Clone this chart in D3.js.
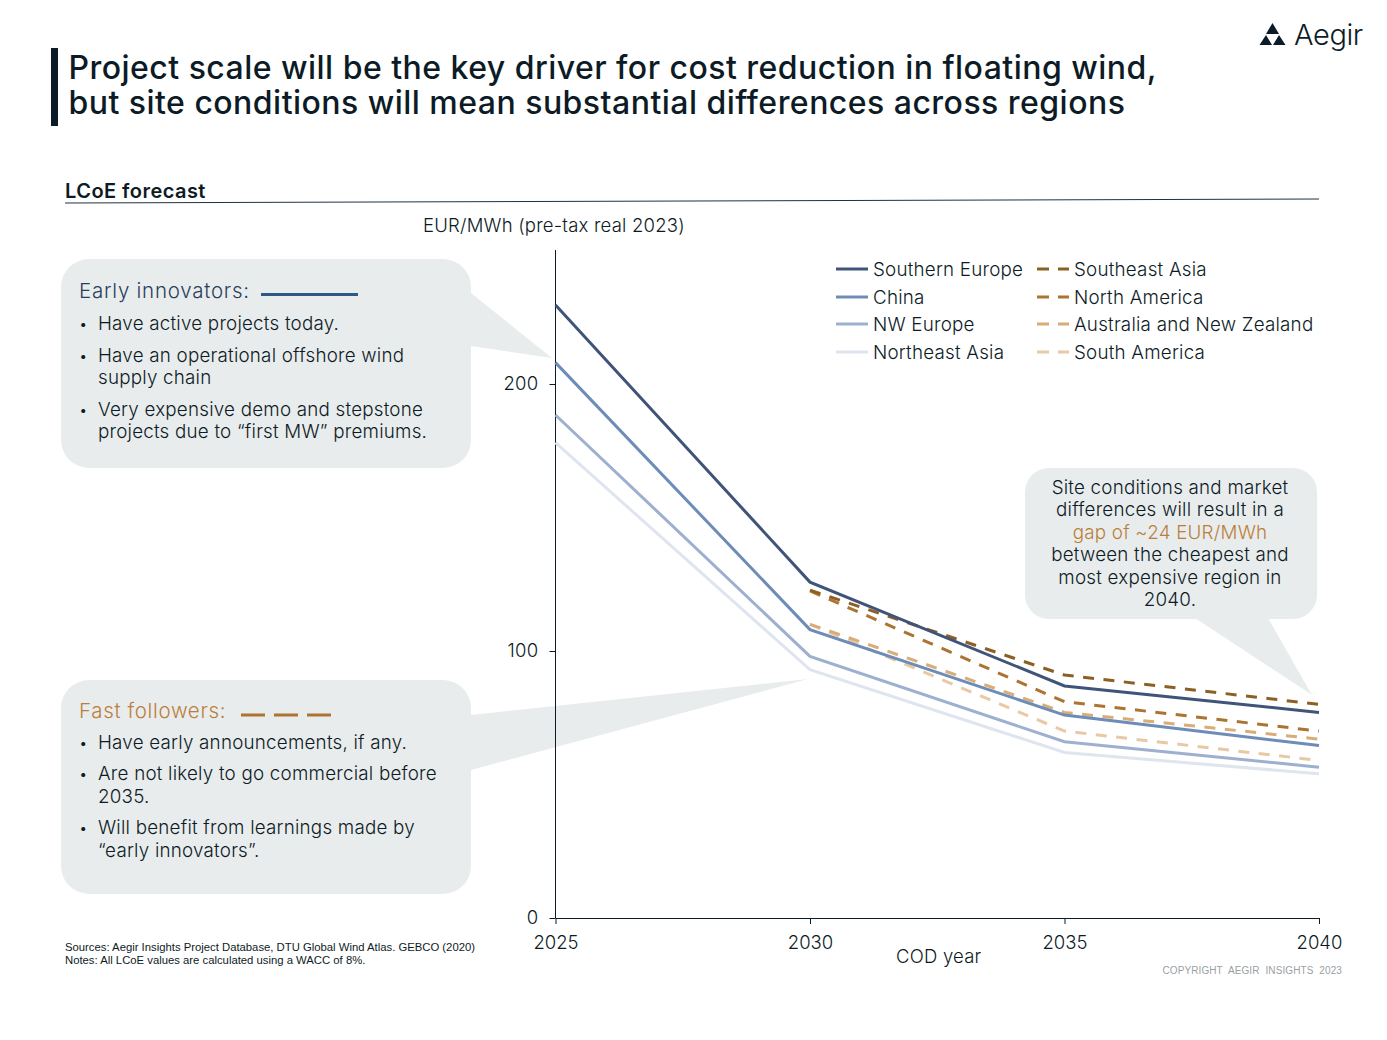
<!DOCTYPE html>
<html>
<head>
<meta charset="utf-8">
<script src="https://cdnjs.cloudflare.com/ajax/libs/d3/7.8.5/d3.min.js"></script>
<style>
  html, body { margin: 0; padding: 0; background: #fff; }
  svg { display: block; font-family: Inter, "Noto Sans", sans-serif; font-weight: 350; letter-spacing: 0.22px; fill: #0d1b26; }
</style>
</head>
<body>
<svg width="1387" height="1040"></svg>
<script>
var years = [2025, 2030, 2035, 2040];
var yTicks = [0, 100, 200];

// values, EUR/MWh. null = no value for that year
var southernEurope = [229.6, 125.8, 86.9, 77];
var china = [208, 108, 76, 64.6];
var nwEurope = [188.4, 98, 66, 56.5];
var northeastAsia = [178, 93, 62, 54];
var southeastAsia = [null, 122.8, 91, 80];
var northAmerica = [null, 122.5, 81, 70];
var australiaNz = [null, 110, 77, 67];
var southAmerica = [null, 110, 70, 59];

var seriesNames = ["Southern Europe", "China", "NW Europe", "Northeast Asia",
                   "Southeast Asia", "North America", "Australia and New Zealand", "South America"];
var seriesValues = [southernEurope, china, nwEurope, northeastAsia,
                    southeastAsia, northAmerica, australiaNz, southAmerica];
var seriesColors = ["#3f5478", "#6d8cb8", "#9db0cf", "#dfe5ef",
                    "#8d5f24", "#ac7430", "#d9ad77", "#e8c9a3"];

var svg = d3.select("svg");

var x = d3.scaleLinear().domain([2025, 2040]).range([555.5, 1319]);
var y = d3.scaleLinear().domain([0, 200]).range([918, 384]);

// title block
svg.append("rect").attr("x", 51).attr("y", 48).attr("width", 7).attr("height", 78).attr("fill", "#0d1b26");
svg.append("text").attr("x", 68.5).attr("y", 79).attr("font-size", 32).attr("font-weight", 500).attr("letter-spacing", 0.47)
    .text("Project scale will be the key driver for cost reduction in floating wind,");
svg.append("text").attr("x", 68.5).attr("y", 114).attr("font-size", 32).attr("font-weight", 500).attr("letter-spacing", 0.47)
    .text("but site conditions will mean substantial differences across regions");

// logo
var logo = svg.append("g").attr("fill", "#0d1b26");
logo.append("path").attr("d", "M1272.5 23l6.5 11h-13z");
logo.append("path").attr("d", "M1266 35l6 10h-12.5z");
logo.append("path").attr("d", "M1279 35l6.5 10h-12.5z");
logo.append("text").attr("x", 1294).attr("y", 45).attr("font-size", 29).attr("letter-spacing", -0.4).text("Aegir");

// section header
svg.append("text").attr("x", 65).attr("y", 198).attr("font-size", 20).attr("font-weight", 600).attr("letter-spacing", 0.45).text("LCoE forecast");
svg.append("line").attr("x1", 65).attr("y1", 203).attr("x2", 1319).attr("y2", 199)
    .attr("stroke", "#1d3247").attr("stroke-width", 1);

svg.append("text").attr("x", 423).attr("y", 232).attr("font-size", 18.5).text("EUR/MWh (pre-tax real 2023)");

// callouts sit behind the chart
var bubble = "#e9eced";
function callout(bx, by, bw, bh, r, tail) {
  svg.append("rect").attr("x", bx).attr("y", by).attr("width", bw).attr("height", bh).attr("rx", r).attr("fill", bubble);
  svg.append("path").attr("d", d3.line()(tail)).attr("fill", bubble);
}
callout(61, 259, 410, 209, 28, [[471, 293], [552, 358], [471, 346]]);
callout(61, 680, 410, 214, 28, [[471, 715], [808, 679], [471, 770]]);
callout(1025, 468, 292, 151, 24, [[1195, 618], [1312, 695], [1268, 618]]);

// axes
var xAxis = d3.axisBottom(x).tickValues(years).tickFormat(d3.format("d")).tickSize(6).tickSizeOuter(0);
var yAxis = d3.axisLeft(y).tickValues(yTicks).tickSize(6).tickSizeOuter(0);

var gx = svg.append("g").attr("transform", "translate(0,918)").call(xAxis);
var gy = svg.append("g").attr("transform", "translate(555.5,0)").call(yAxis);
gy.select(".domain").attr("d", "M0," + 250 + "V" + 918);
gx.selectAll("path,line").attr("stroke", "#0d1b26");
gy.selectAll("path,line").attr("stroke", "#0d1b26");
gx.selectAll("text").attr("font-family", "Inter").attr("font-size", 18.5).attr("letter-spacing", 0).attr("fill", "#0d1b26").attr("y", 18);
gy.selectAll("text").attr("font-family", "Inter").attr("font-size", 18.5).attr("letter-spacing", 0.3).attr("fill", "#0d1b26").attr("x", -17);

svg.append("text").attr("x", 896).attr("y", 963).attr("font-size", 18.5).text("COD year");

// lines
var line = d3.line()
    .defined(function(d) { return d[1] != null; })
    .x(function(d) { return x(d[0]); })
    .y(function(d) { return y(d[1]); });

// light ones first so the darker lines end up on top
d3.range(7, -1, -1).forEach(function(i) {
  svg.append("path")
      .attr("d", line(years.map(function(yr, j) { return [yr, seriesValues[i][j]]; })))
      .attr("fill", "none")
      .attr("stroke", seriesColors[i])
      .attr("stroke-width", 3)
      .attr("stroke-dasharray", i >= 4 ? "11 9.5" : null);
});

// legend
var legendX = [836, 1037];
var legendTextX = [873, 1074];
var legendY = [269, 297, 324, 352];
seriesNames.forEach(function(name, i) {
  var col = i < 4 ? 0 : 1, row = i % 4;
  svg.append("line").attr("x1", legendX[col]).attr("x2", legendX[col] + 32)
      .attr("y1", legendY[row]).attr("y2", legendY[row])
      .attr("stroke", seriesColors[i]).attr("stroke-width", 3)
      .attr("stroke-dasharray", i >= 4 ? "12 9" : null);
  svg.append("text").attr("x", legendTextX[col]).attr("y", legendY[row] + 7).attr("font-size", 18.8).text(name);
});

// early innovators box
var orange = "#b97f3a";
svg.append("text").attr("x", 79).attr("y", 298).attr("font-size", 20.5).attr("letter-spacing", 0.75).attr("fill", "#28405c").text("Early innovators:");
svg.append("line").attr("x1", 261).attr("x2", 358).attr("y1", 294.5).attr("y2", 294.5).attr("stroke", "#2c5a85").attr("stroke-width", 3);

function bullets(items) {
  items.forEach(function(t) {
    if (t.b) svg.append("text").attr("x", 79).attr("y", t.y - 1).attr("font-size", 15).text("•");
    svg.append("text").attr("x", 98).attr("y", t.y).attr("font-size", 18.8).text(t.s);
  });
}
bullets([
  {b: 1, y: 330, s: "Have active projects today."},
  {b: 1, y: 362, s: "Have an operational offshore wind"},
  {b: 0, y: 384, s: "supply chain"},
  {b: 1, y: 416, s: "Very expensive demo and stepstone"},
  {b: 0, y: 438, s: "projects due to “first MW” premiums."}
]);

// fast followers box
svg.append("text").attr("x", 79).attr("y", 718).attr("font-size", 20.5).attr("letter-spacing", 0.65).attr("fill", orange).text("Fast followers:");
svg.append("line").attr("x1", 241).attr("x2", 331).attr("y1", 715).attr("y2", 715)
    .attr("stroke", "#ac7430").attr("stroke-width", 3).attr("stroke-dasharray", "24 9");
bullets([
  {b: 1, y: 749, s: "Have early announcements, if any."},
  {b: 1, y: 780, s: "Are not likely to go commercial before"},
  {b: 0, y: 803, s: "2035."},
  {b: 1, y: 834, s: "Will benefit from learnings made by"},
  {b: 0, y: 857, s: "“early innovators”."}
]);

// gap callout
var gapLines = [
  ["Site conditions and market", 494],
  ["differences will result in a", 516],
  ["gap of  ~24 EUR/MWh", 539, orange],
  ["between the cheapest and", 561],
  ["most expensive region in", 584],
  ["2040.", 606]
];
gapLines.forEach(function(l) {
  svg.append("text").attr("x", 1170).attr("y", l[1]).attr("text-anchor", "middle").attr("font-size", 18.8)
      .attr("fill", l[2] || "#0d1b26").text(l[0]);
});

// footer
svg.append("text").attr("x", 65).attr("y", 951).attr("font-size", 11.3).attr("letter-spacing", 0).attr("font-family", "Liberation Sans").text("Sources: Aegir Insights Project Database, DTU Global Wind Atlas. GEBCO (2020)");
svg.append("text").attr("x", 65).attr("y", 964).attr("font-size", 11.3).attr("letter-spacing", 0).attr("font-family", "Liberation Sans").text("Notes: All LCoE values are calculated using a WACC of 8%.");
svg.append("text").attr("x", 1342).attr("y", 974).attr("text-anchor", "end").attr("font-size", 10).attr("font-family", "Liberation Sans")
    .attr("letter-spacing", 0.1).attr("word-spacing", 3).attr("fill", "#9a9fa3").text("COPYRIGHT AEGIR INSIGHTS 2023");
</script>
</body>
</html>
